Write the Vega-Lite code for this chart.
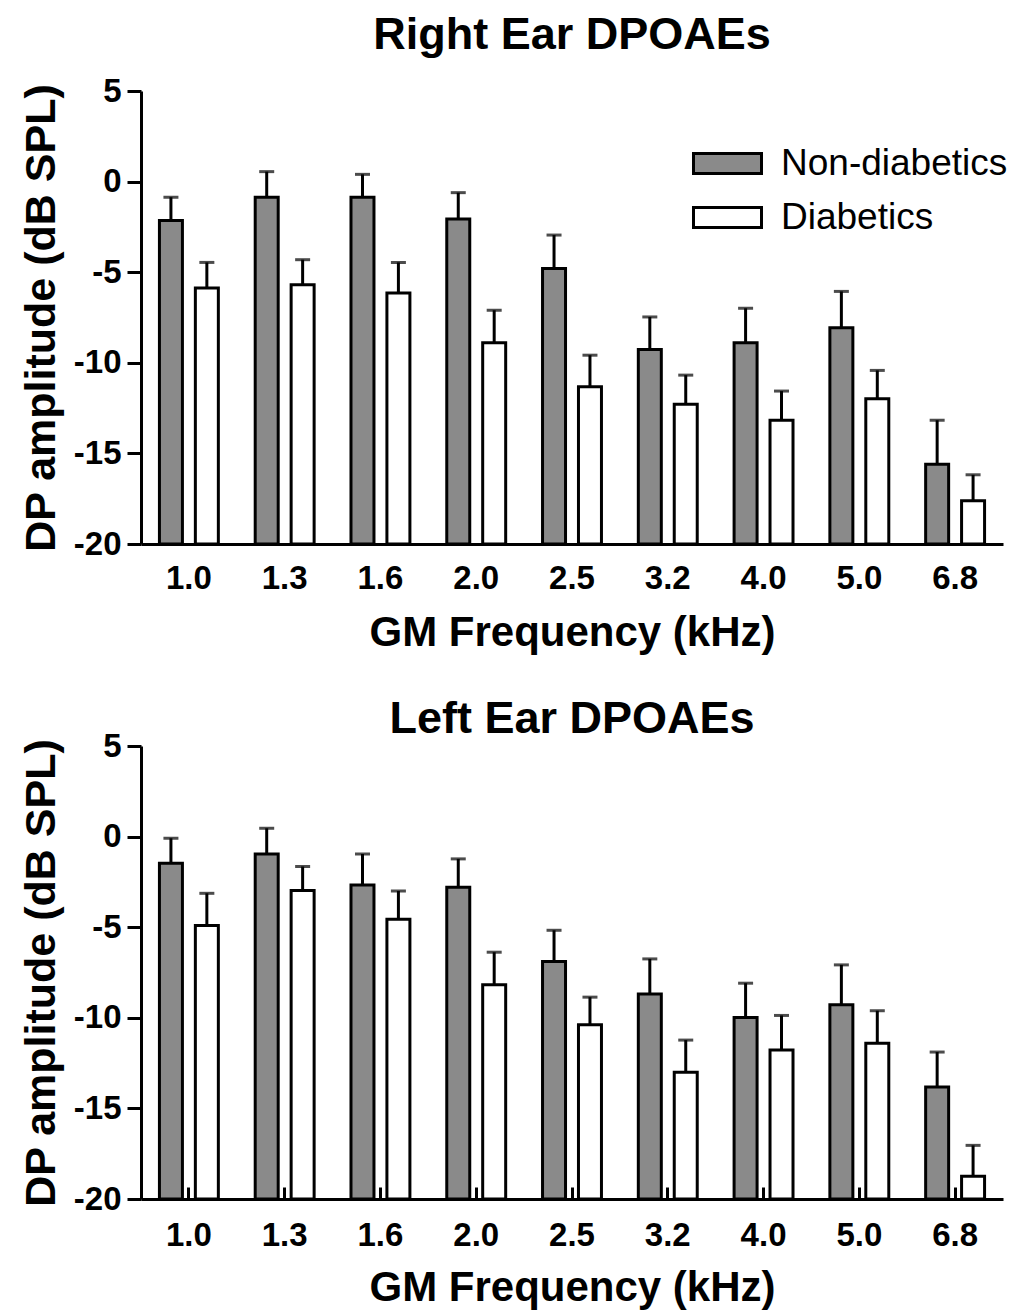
{
  "$schema": "https://vega.github.io/schema/vega-lite/v6.json",
  "padding": {"left": 20, "top": 13, "right": 5, "bottom": 5},
  "config": {
    "font": "Liberation Sans",
    "view": {"stroke": null},
    "axis": {
      "domainColor": "black", "domainWidth": 3, "tickColor": "black", "tickWidth": 3,
      "labelColor": "black", "labelFont": "Liberation Sans", "labelFontWeight": "bold", "labelFontSize": 33,
      "titleFont": "Liberation Sans", "titleFontWeight": "bold", "titleFontSize": 42, "titleColor": "black",
      "grid": false
    },
    "title": {"fontSize": 45, "fontWeight": "bold", "color": "black", "font": "Liberation Sans"},
    "concat": {"spacing": 44}
  },
  "datasets": {
    "right": [
      {"freq": "1.0", "group": "Non-diabetics", "amp": -2.15, "upper": -0.86},
      {"freq": "1.0", "group": "Diabetics", "amp": -5.87, "upper": -4.46},
      {"freq": "1.3", "group": "Non-diabetics", "amp": -0.86, "upper": 0.55},
      {"freq": "1.3", "group": "Diabetics", "amp": -5.69, "upper": -4.31},
      {"freq": "1.6", "group": "Non-diabetics", "amp": -0.86, "upper": 0.40},
      {"freq": "1.6", "group": "Diabetics", "amp": -6.15, "upper": -4.46},
      {"freq": "2.0", "group": "Non-diabetics", "amp": -2.07, "upper": -0.61},
      {"freq": "2.0", "group": "Diabetics", "amp": -8.90, "upper": -7.10},
      {"freq": "2.5", "group": "Non-diabetics", "amp": -4.79, "upper": -2.95},
      {"freq": "2.5", "group": "Diabetics", "amp": -11.32, "upper": -9.58},
      {"freq": "3.2", "group": "Non-diabetics", "amp": -9.27, "upper": -7.47},
      {"freq": "3.2", "group": "Diabetics", "amp": -12.29, "upper": -10.68},
      {"freq": "4.0", "group": "Non-diabetics", "amp": -8.90, "upper": -6.99},
      {"freq": "4.0", "group": "Diabetics", "amp": -13.17, "upper": -11.56},
      {"freq": "5.0", "group": "Non-diabetics", "amp": -8.07, "upper": -6.06},
      {"freq": "5.0", "group": "Diabetics", "amp": -11.98, "upper": -10.42},
      {"freq": "6.8", "group": "Non-diabetics", "amp": -15.60, "upper": -13.17},
      {"freq": "6.8", "group": "Diabetics", "amp": -17.61, "upper": -16.18}
    ],
    "left": [
      {"freq": "1.0", "group": "Non-diabetics", "amp": -1.47, "upper": -0.09},
      {"freq": "1.0", "group": "Diabetics", "amp": -4.91, "upper": -3.13},
      {"freq": "1.3", "group": "Non-diabetics", "amp": -0.96, "upper": 0.46},
      {"freq": "1.3", "group": "Diabetics", "amp": -2.98, "upper": -1.65},
      {"freq": "1.6", "group": "Non-diabetics", "amp": -2.67, "upper": -0.96},
      {"freq": "1.6", "group": "Diabetics", "amp": -4.56, "upper": -3.00},
      {"freq": "2.0", "group": "Non-diabetics", "amp": -2.79, "upper": -1.23},
      {"freq": "2.0", "group": "Diabetics", "amp": -8.18, "upper": -6.38},
      {"freq": "2.5", "group": "Non-diabetics", "amp": -6.89, "upper": -5.17},
      {"freq": "2.5", "group": "Diabetics", "amp": -10.39, "upper": -8.86},
      {"freq": "3.2", "group": "Non-diabetics", "amp": -8.69, "upper": -6.75},
      {"freq": "3.2", "group": "Diabetics", "amp": -13.01, "upper": -11.23},
      {"freq": "4.0", "group": "Non-diabetics", "amp": -9.98, "upper": -8.09},
      {"freq": "4.0", "group": "Diabetics", "amp": -11.78, "upper": -9.87},
      {"freq": "5.0", "group": "Non-diabetics", "amp": -9.28, "upper": -7.08},
      {"freq": "5.0", "group": "Diabetics", "amp": -11.40, "upper": -9.61},
      {"freq": "6.8", "group": "Non-diabetics", "amp": -13.82, "upper": -11.89},
      {"freq": "6.8", "group": "Diabetics", "amp": -18.75, "upper": -17.04}
    ]
  },
  "resolve": {"scale": {"fill": "independent"}, "legend": {"fill": "independent"}},
  "vconcat": [
    {
      "title": {"text": "Right Ear DPOAEs", "offset": 17},
      "width": 862, "height": 453,
      "data": {"name": "right"},
      "encoding": {
        "x": {"field": "freq", "type": "ordinal", "sort": null,
              "scale": {"paddingInner": 0, "paddingOuter": 0},
              "axis": {"title": "GM Frequency (kHz)", "labelAngle": 0, "ticks": false, "labelPadding": 18, "titlePadding": 17}},
        "xOffset": {"field": "group", "type": "nominal", "sort": ["Non-diabetics", "Diabetics"],
                    "scale": {"paddingInner": 0.36, "paddingOuter": 0.513}}
      },
      "layer": [
        {
          "mark": {"type": "bar", "stroke": "black", "strokeWidth": 3},
          "encoding": {
            "y": {"field": "amp", "type": "quantitative", "scale": {"domain": [-20, 5], "nice": false},
                  "axis": {"values": [-20, -15, -10, -5, 0, 5], "labelExpr": "'' + datum.value", "title": "DP amplitude (dB SPL)", "titleFontSize": 43, "tickSize": 14, "labelPadding": 6, "titlePadding": 10}},
            "y2": {"datum": -20},
            "fill": {"field": "group", "type": "nominal",
                     "scale": {"domain": ["Non-diabetics", "Diabetics"], "range": ["#8a8a8a", "white"]},
                     "legend": {"orient": "none", "legendX": 551, "legendY": 37, "title": null,
                                "symbolType": "M-1,-0.294H1V0.294H-1Z", "symbolSize": 4624,
                                "symbolStrokeColor": "black", "symbolStrokeWidth": 3,
                                "labelFontSize": 37, "labelFont": "Liberation Sans", "labelColor": "black",
                                "labelLimit": 0, "labelOffset": 18, "rowPadding": -17}}
          }
        },
        {
          "mark": {"type": "rule", "strokeWidth": 3, "color": "black"},
          "encoding": {"y": {"field": "amp", "type": "quantitative"}, "y2": {"field": "upper"}}
        },
        {
          "mark": {"type": "tick", "thickness": 3, "size": 15, "color": "black", "orient": "horizontal"},
          "encoding": {"y": {"field": "upper", "type": "quantitative"}}
        }
      ]
    },
    {
      "title": {"text": "Left Ear DPOAEs", "offset": -12},
      "width": 862, "height": 453,
      "data": {"name": "left"},
      "encoding": {
        "x": {"field": "freq", "type": "ordinal", "sort": null,
              "scale": {"paddingInner": 0, "paddingOuter": 0},
              "axis": {"title": "GM Frequency (kHz)", "labelAngle": 0, "tickSize": -12, "labelPadding": 32, "titlePadding": 15}},
        "xOffset": {"field": "group", "type": "nominal", "sort": ["Non-diabetics", "Diabetics"],
                    "scale": {"paddingInner": 0.36, "paddingOuter": 0.513}}
      },
      "layer": [
        {
          "mark": {"type": "bar", "stroke": "black", "strokeWidth": 3},
          "encoding": {
            "y": {"field": "amp", "type": "quantitative", "scale": {"domain": [-20, 5], "nice": false},
                  "axis": {"values": [-20, -15, -10, -5, 0, 5], "labelExpr": "'' + datum.value", "title": "DP amplitude (dB SPL)", "titleFontSize": 43, "tickSize": 14, "labelPadding": 6, "titlePadding": 10}},
            "y2": {"datum": -20},
            "fill": {"field": "group", "type": "nominal",
                     "scale": {"domain": ["Non-diabetics", "Diabetics"], "range": ["#8a8a8a", "white"]},
                     "legend": null}
          }
        },
        {
          "mark": {"type": "rule", "strokeWidth": 3, "color": "black"},
          "encoding": {"y": {"field": "amp", "type": "quantitative"}, "y2": {"field": "upper"}}
        },
        {
          "mark": {"type": "tick", "thickness": 3, "size": 15, "color": "black", "orient": "horizontal"},
          "encoding": {"y": {"field": "upper", "type": "quantitative"}}
        }
      ]
    }
  ]
}
